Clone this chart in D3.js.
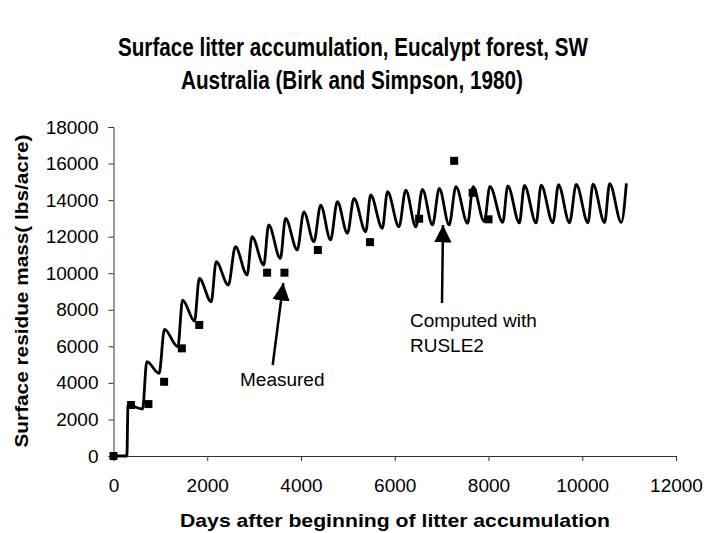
<!DOCTYPE html>
<html>
<head>
<script src="https://d3js.org/d3.v7.min.js"></script>
<style>
  body { margin: 0; background: #fff; }
  text { font-family: Arial, "Liberation Sans", sans-serif; }
</style>
</head>
<body>
<script>
var w = 704, h = 533

// computed line (RUSLE2), trough / peak points
var lineDays = [0, 285, 310, 620, 710, 973, 1087, 1373, 1473, 1728, 1830, 2085, 2190,
  2450, 2600, 2850, 2955, 3205, 3310, 3560, 3670, 3920, 4060, 4275, 4420, 4630, 4775,
  4990, 5130, 5380, 5485, 5735, 5845, 6090, 6235, 6450, 6590, 6805, 6950, 7160, 7305,
  7555, 7670, 7910, 8030, 8304, 8411, 8659, 8766, 9016, 9123, 9373, 9493, 9728, 9872,
  10122, 10229, 10477, 10584, 10834, 10941]
var lineMass = [0, 0, 2790, 2570, 5160, 4520, 6930, 5980, 8530, 7380, 9720, 8440, 10630,
  9350, 11450, 9900, 12000, 10450, 12640, 10810, 13000, 11270, 13360, 11720, 13730, 11820, 13910,
  12180, 14100, 12270, 14280, 12460, 14460, 12540, 14550, 12540, 14590, 12640, 14640, 12640, 14730,
  12730, 14730, 12820, 14750, 12780, 14780, 12750, 14800, 12750, 14820, 12760, 14840, 12760, 14860,
  12760, 14880, 12770, 14900, 12780, 14920]

// measured points
var measDays = [0, 374, 745, 1080, 1458, 1829, 3277, 3647, 4360, 5472, 6520, 7268, 7662, 8000]
var measMass = [0, 2790, 2840, 4060, 5890, 7170, 10030, 10030, 11270, 11700, 12980, 16150, 14400, 12950]

var xTicks = [0, 2000, 4000, 6000, 8000, 10000, 12000]
var yTicks = [0, 2000, 4000, 6000, 8000, 10000, 12000, 14000, 16000, 18000]

var svg = d3.select('body').append('svg')
  .attr('width', w).attr('height', h)

var x = d3.scaleLinear().domain([0, 12000]).range([113.5, 676])
var y = d3.scaleLinear().domain([0, 18000]).range([456, 127])

// axes
var gx = svg.append('g').attr('transform', 'translate(0,456)')
  .call(d3.axisBottom(x).tickValues(xTicks).tickSize(5).tickPadding(18).tickFormat(d3.format('d')))
var gy = svg.append('g').attr('transform', 'translate(113.5,0)')
  .call(d3.axisLeft(y).tickValues(yTicks).tickSize(5).tickPadding(10).tickFormat(d3.format('d')))

;[gx, gy].forEach(function(g){
  g.selectAll('path,line').attr('stroke', '#333').attr('stroke-width', 1)
  g.selectAll('text').attr('font-size', 19).attr('fill', '#000')
    .attr('font-family', 'Arial, "Liberation Sans", sans-serif')
})

// computed line
var line = d3.line()
  .x(function(d){ return x(d[0]) })
  .y(function(d){ return y(d[1]) })
  .curve(d3.curveMonotoneX)

svg.append('path')
  .attr('d', line(d3.zip(lineDays, lineMass)))
  .attr('fill', 'none')
  .attr('stroke', '#000')
  .attr('stroke-width', 2.8)
  .attr('stroke-linejoin', 'round')

// measured squares
svg.selectAll('rect.meas')
  .data(d3.zip(measDays, measMass))
  .enter().append('rect')
  .attr('class', 'meas')
  .attr('x', function(d){ return x(d[0]) - 4 })
  .attr('y', function(d){ return y(d[1]) - 4 })
  .attr('width', 8).attr('height', 8)
  .attr('fill', '#000')

// titles (narrow bold look)
var title = svg.append('g').attr('font-weight', 'bold').attr('font-size', 25)
  .attr('text-anchor', 'middle')
title.append('text').attr('x', 353).attr('y', 56)
  .attr('textLength', 470).attr('lengthAdjust', 'spacingAndGlyphs')
  .text('Surface litter accumulation, Eucalypt forest, SW')
title.append('text').attr('x', 352).attr('y', 89)
  .attr('textLength', 342).attr('lengthAdjust', 'spacingAndGlyphs')
  .text('Australia (Birk and Simpson, 1980)')

svg.append('text')
  .attr('x', 395).attr('y', 527)
  .attr('text-anchor', 'middle').attr('font-weight', 'bold').attr('font-size', 19)
  .attr('textLength', 430).attr('lengthAdjust', 'spacingAndGlyphs')
  .text('Days after beginning of litter accumulation')

svg.append('text')
  .attr('transform', 'translate(28,291) rotate(-90)')
  .attr('text-anchor', 'middle').attr('font-weight', 'bold').attr('font-size', 19)
  .attr('textLength', 313).attr('lengthAdjust', 'spacingAndGlyphs')
  .text('Surface residue mass( lbs/acre)')

// annotations
svg.append('defs').append('marker')
  .attr('id', 'head').attr('viewBox', '0 0 10 10')
  .attr('refX', 10).attr('refY', 5)
  .attr('markerWidth', 7).attr('markerHeight', 7)
  .attr('markerUnits', 'strokeWidth')
  .attr('orient', 'auto')
  .append('path').attr('d', 'M0,0 L10,5 L0,10 z').attr('fill', '#000')

svg.append('line')
  .attr('x1', 272.7).attr('y1', 365).attr('x2', 283.3).attr('y2', 283)
  .attr('stroke', '#000').attr('stroke-width', 2.5).attr('marker-end', 'url(#head)')
svg.append('line')
  .attr('x1', 442).attr('y1', 303).attr('x2', 443).attr('y2', 225)
  .attr('stroke', '#000').attr('stroke-width', 2.5).attr('marker-end', 'url(#head)')

svg.append('text').attr('x', 240).attr('y', 386).attr('font-size', 19).text('Measured')
svg.append('text').attr('x', 410).attr('y', 327).attr('font-size', 19).text('Computed with')
svg.append('text').attr('x', 410).attr('y', 352).attr('font-size', 19).text('RUSLE2')
</script>
</body>
</html>
